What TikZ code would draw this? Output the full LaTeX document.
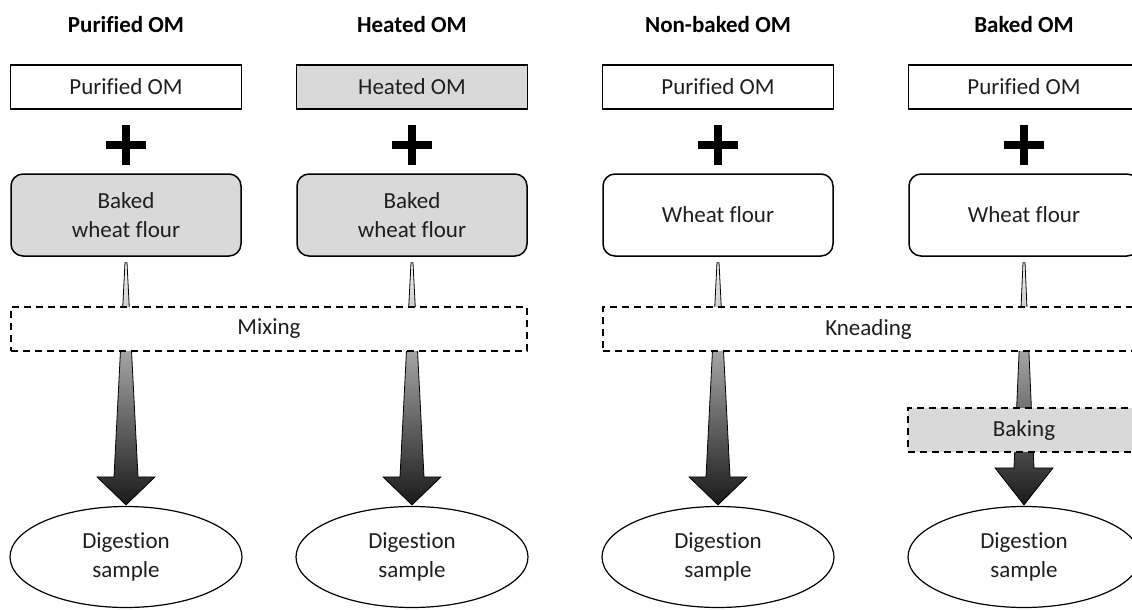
\documentclass[tikz,border=0pt]{standalone}
\usepackage{fontspec}
\setmainfont{Carlito}[Ligatures=NoCommon]
\usetikzlibrary{positioning,calc,shapes.geometric}
\definecolor{boxgray}{RGB}{217,217,217}
\definecolor{inkgray}{RGB}{30,30,30}

\tikzset{
  title/.style={font=\fontsize{23}{28.5}\selectfont\bfseries, text=black},
  topbox/.style={draw, line width=1.5pt, minimum width=231pt, minimum height=44pt, inner sep=0pt},
  flourbox/.style={draw, rounded corners=12pt, line width=1.5pt, minimum width=230pt, minimum height=82pt, align=center},
  stepbox/.style={draw, dash pattern=on 7pt off 5pt, line width=1.5pt, fill=white, minimum height=44pt},
  digest/.style={draw, ellipse, line width=1.2pt, minimum width=232pt, minimum height=101pt, align=center, inner sep=0pt},
  plus/.style={minimum size=40pt, inner sep=0pt, path picture={
      \draw[line width=8pt, black] (path picture bounding box.west) -- (path picture bounding box.east)
        (path picture bounding box.north) -- (path picture bounding box.south);}},
  arrowshade/.style={top color=gray!8, bottom color=black!90, draw=black, line width=0.8pt},
}

% shaded arrow: #1 from node, #2 to node, #3 head length, #4 shaft half width
\newcommand{\flowarrow}[4]{%
  \shadedraw[arrowshade] let \p1=(#1.south), \p2=(#2.north) in
    (\x1-1pt,\y1-6pt) -- (\x1+1pt,\y1-6pt) -- (\x1+#4,\y2+1pt+#3) -- (\x1+29pt,\y2+1pt+#3)
    -- (\x1,\y2+1pt) -- (\x1-29pt,\y2+1pt+#3) -- (\x1-#4,\y2+1pt+#3) -- cycle;}

\begin{document}
\begin{tikzpicture}[x=1pt, y=-1pt, font=\fontsize{23}{28.5}\selectfont, text=inkgray]
    \clip (0,0) rectangle (1132,610);

    % Titles
    \node[title] (t1) at (126,25) {Purified OM};
    \node[title] (t2) at (412,25) {Heated OM};
    \node[title] (t3) at (718,25) {Non-baked OM};
    \node[title] (t4) at (1024,25) {Baked OM};

    % OM
    \node[topbox] (om1) at (126,87) {Purified OM};
    \node[topbox, fill=boxgray] (om2) at (412,87) {Heated OM};
    \node[topbox] (om3) at (718,87) {Purified OM};
    \node[topbox] (om4) at (1024,87) {Purified OM};

    % Flour
    \node[flourbox, fill=boxgray] (fl1) at (126,215) {Baked\\wheat flour};
    \node[flourbox, fill=boxgray] (fl2) at (412,215) {Baked\\wheat flour};
    \node[flourbox] (fl3) at (718,215) {Wheat flour};
    \node[flourbox] (fl4) at (1024,215) {Wheat flour};

    \foreach \c/\x in {1/126, 2/412, 3/718, 4/1024} {
        \node[plus] (plus\c) at (\x,145) {};
        \node[digest] (dig\c) at (\x,557) {Digestion\\sample};
    }

    % Arrows
    \flowarrow{fl1}{dig1}{28pt}{12pt}
    \flowarrow{fl2}{dig2}{28pt}{12pt}
    \flowarrow{fl3}{dig3}{28pt}{12pt}
    \flowarrow{fl4}{dig4}{37pt}{10pt}

    % Steps
    \node[stepbox, minimum width=516pt] (mix) at (269,329) {Mixing};
    \node[stepbox, minimum width=531pt] (knead) at (868.5,329) {Kneading};
    \node[stepbox, fill=boxgray, minimum width=232pt] (bake) at (1024,430) {Baking};
\end{tikzpicture}
\end{document}
